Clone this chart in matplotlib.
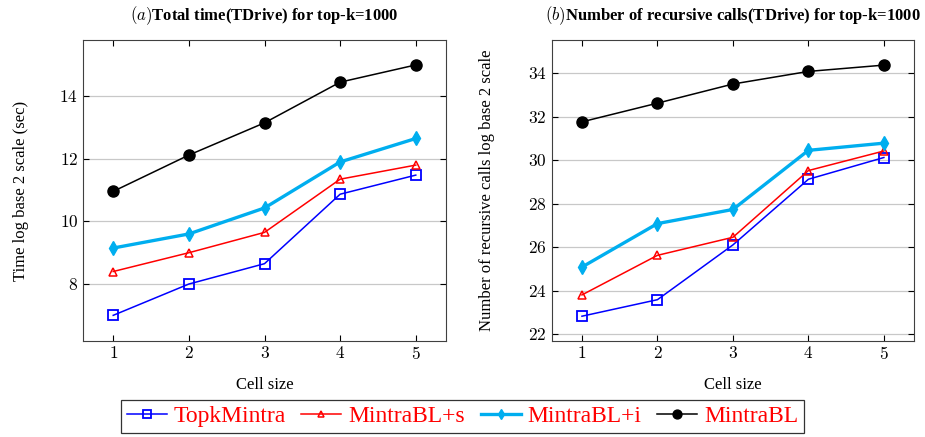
import numpy as np
import matplotlib
matplotlib.use("Agg")
import matplotlib.pyplot as plt

plt.rcParams['font.family'] = ['Liberation Serif', 'DejaVu Serif']
plt.rcParams['mathtext.fontset'] = 'cm'

cell_size = [1, 2, 3, 4, 5]
names = ['TopkMintra', 'MintraBL+s', 'MintraBL+i', 'MintraBL']

# (a) total time, log2 sec
time_topk = [7.0, 8.0, 8.65, 10.87, 11.48]
time_bls = [8.4, 9.0, 9.65, 11.35, 11.8]
time_bli = [9.15, 9.6, 10.43, 11.9, 12.65]
time_bl = [10.96, 12.12, 13.15, 14.45, 15.0]

# (b) recursive calls, log2
calls_topk = [22.82, 23.58, 26.1, 29.12, 30.12]
calls_bls = [23.8, 25.62, 26.45, 29.52, 30.42]
calls_bli = [25.08, 27.08, 27.73, 30.45, 30.78]
calls_bl = [31.76, 32.62, 33.5, 34.08, 34.37]

styles = [
    dict(color='#0000ff', lw=1.1, marker='s', ms=7, mfc='none', mew=1.3),
    dict(color='#ff0000', lw=1.1, marker='^', ms=6, mfc='none', mew=1.1),
    dict(color='#00aeef', lw=2.4, marker='d', ms=7, mfc='#00aeef', mew=1.0),
    dict(color='black', lw=1.1, marker='o', ms=8, mfc='black', mew=1.0),
]

fig = plt.figure(figsize=(9.25, 4.37), dpi=100)
ax1 = fig.add_axes([0.0897, 0.2197, 0.3925, 0.689])
ax2 = fig.add_axes([0.5965, 0.2197, 0.3917, 0.689])

handles = []
for ax, series in [(ax1, [time_topk, time_bls, time_bli, time_bl]),
                   (ax2, [calls_topk, calls_bls, calls_bli, calls_bl])]:
    hs = []
    for vals, st, nm in zip(series, styles, names):
        h, = ax.plot(cell_size, vals, label=nm, zorder=3, **st)
        hs.append(h)
    handles = hs
    ax.set_xlim(0.6, 5.4)
    ax.set_xticks(cell_size)
    ax.set_xticklabels(['$%d$' % v for v in cell_size])
    ax.grid(axis='y', color='#c8c8c8', lw=0.9)
    ax.tick_params(direction='in', top=True, right=True, labelsize=12.5, length=4)
    ax.set_xlabel('Cell size', fontsize=12, labelpad=10)
    for s in ax.spines.values():
        s.set_color('#404040')

ax1.set_ylim(6.18, 15.8)
ax1.set_yticks([8, 10, 12, 14])
ax1.set_yticklabels(['$%d$' % v for v in [8, 10, 12, 14]])
ax1.set_ylabel('Time log base 2 scale (sec)', fontsize=12, labelpad=22)
ax1.set_title(r'$(a)$' + 'Total time(TDrive) for top-k=1000', fontsize=12,
              fontweight='bold', pad=14)

ax2.set_ylim(21.68, 35.53)
ax2.set_yticks([22, 24, 26, 28, 30, 32, 34])
ax2.set_yticklabels(['$%d$' % v for v in [22, 24, 26, 28, 30, 32, 34]])
ax2.set_ylabel('Number of recursive calls log base 2 scale', fontsize=12, labelpad=24)
ax2.set_title(r'$(b)$' + 'Number of recursive calls(TDrive) for top-k=1000',
              fontsize=12, fontweight='bold', pad=14)

leg = fig.legend(handles, names, loc='center', bbox_to_anchor=(0.5, 0.0475),
                 ncol=4, fontsize=17, frameon=True, fancybox=False,
                 edgecolor='black', handlelength=1.7, handletextpad=0.3,
                 columnspacing=0.65, borderpad=0.25, labelcolor='red',
                 markerscale=0.8)
leg.get_frame().set_linewidth(0.9)

fig.savefig('out.png', dpi=100)
